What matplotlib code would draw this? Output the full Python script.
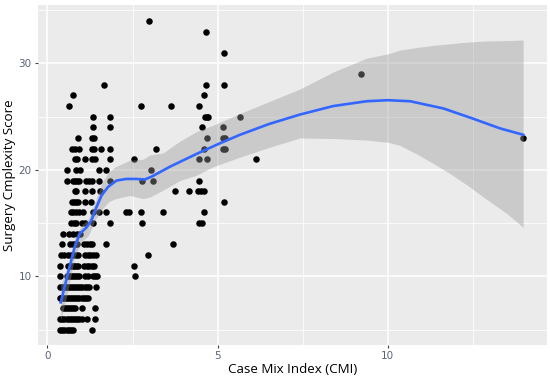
import numpy as np
import matplotlib
matplotlib.use("Agg")
import matplotlib.pyplot as plt

# surgery complexity score levels and the CMI values observed at each level
levels = [5, 6, 7, 8, 9, 10, 11, 12, 13, 14, 15, 16, 17, 18, 19, 20, 21, 22,
          23, 24, 25, 26, 27, 28, 29, 31, 33, 34]
cmi_5 = [0.38, 0.44, 0.50, 0.56, 0.62, 0.68, 0.75, 1.31]
cmi_6 = [0.38, 0.44, 0.50, 0.56, 0.62, 0.68, 0.74, 0.80, 0.86, 0.92, 1.00, 1.15, 1.41]
cmi_7 = [0.46, 0.52, 0.58, 0.64, 0.70, 0.76, 0.82, 1.00, 1.41]
cmi_8 = [0.36, 0.40, 0.46, 0.52, 0.58, 0.64, 0.70, 0.76, 0.82, 0.88, 0.94, 1.00,
         1.06, 1.12, 1.20]
cmi_9 = [0.36, 0.42, 0.48, 0.54, 0.60, 0.66, 0.72, 0.78, 0.84, 0.90, 0.96, 1.02,
         1.10, 1.16, 1.22, 1.43]
cmi_10 = [0.38, 0.58, 0.64, 0.70, 0.76, 0.82, 0.88, 0.94, 1.10, 1.20, 1.33, 1.40,
          1.46, 2.58]
cmi_11 = [0.38, 0.60, 0.66, 0.72, 0.78, 0.84, 0.90, 1.08, 1.16, 1.22, 1.30, 1.38, 2.53]
cmi_12 = [0.40, 0.50, 0.60, 0.68, 0.76, 0.84, 0.90, 1.10, 1.18, 1.26, 1.34, 1.42, 2.94]
cmi_13 = [0.42, 0.66, 0.74, 0.82, 0.88, 1.08, 1.16, 1.24, 1.30, 1.73, 3.69]
cmi_14 = [0.46, 0.64, 0.74, 0.86, 0.95]
cmi_15 = [0.70, 0.77, 0.85, 1.02, 1.10, 1.34, 1.84, 2.79, 4.45, 4.55]
cmi_16 = [0.68, 0.76, 0.84, 0.92, 1.05, 1.34, 1.52, 1.72, 2.32, 2.40, 2.74, 3.40, 4.60]
cmi_17 = [0.72, 0.78, 0.84, 0.90, 1.10, 1.29, 5.20]
cmi_18 = [0.80, 0.84, 1.10, 1.31, 1.53, 3.75, 4.16, 4.43, 4.50, 4.60]
cmi_19 = [0.58, 0.74, 0.80, 0.86, 0.94, 1.14, 1.22, 1.30, 1.52, 1.84, 2.79, 3.09, 4.45]
cmi_20 = [0.56, 0.85, 0.95, 1.52, 1.73, 3.03]
cmi_21 = [0.80, 0.88, 1.10, 1.32, 1.40, 1.84, 2.54, 4.45, 4.68, 6.12]
cmi_22 = [0.72, 0.82, 0.92, 1.30, 1.38, 1.56, 1.84, 3.18, 4.60, 5.16, 5.22]
cmi_23 = [0.90, 1.30, 1.38, 4.68, 5.16, 5.22, 13.98]
cmi_24 = [1.35, 1.84, 4.55, 5.16]
cmi_25 = [1.35, 1.84, 4.62, 4.68, 4.73, 5.66]
cmi_26 = [0.62, 2.74, 3.64, 4.45]
cmi_27 = [0.75, 4.60]
cmi_28 = [1.67, 4.67, 5.20]
cmi_29 = [9.20]
cmi_31 = [5.20]
cmi_33 = [4.67]
cmi_34 = [2.98]
cmi_rows = [cmi_5, cmi_6, cmi_7, cmi_8, cmi_9, cmi_10, cmi_11, cmi_12, cmi_13,
            cmi_14, cmi_15, cmi_16, cmi_17, cmi_18, cmi_19, cmi_20, cmi_21, cmi_22,
            cmi_23, cmi_24, cmi_25, cmi_26, cmi_27, cmi_28, cmi_29, cmi_31, cmi_33,
            cmi_34]

# loess smooth and its confidence band
smooth_x = [0.39, 0.51, 0.65, 0.80, 0.95, 1.15, 1.29, 1.44, 1.59, 1.78, 2.03, 2.32,
            2.60, 2.86, 3.05, 3.60, 4.38, 5.07, 5.66, 6.50, 7.42, 8.40, 9.38, 10.0,
            10.66, 11.64, 12.52, 13.30, 13.98]
smooth_y = [7.55, 9.1, 10.9, 12.75, 14.0, 14.6, 15.25, 16.5, 17.6, 18.4, 19.0, 19.15,
            19.15, 19.1, 19.35, 20.3, 21.5, 22.5, 23.3, 24.3, 25.2, 26.0, 26.45, 26.55,
            26.45, 25.77, 24.8, 23.9, 23.3]
band_x = [0.39, 0.60, 0.80, 1.00, 1.20, 1.40, 1.60, 1.80, 2.00, 2.42, 2.81, 3.01,
          3.40, 3.89, 4.38, 4.87, 5.66, 6.50, 7.42, 8.40, 9.38, 10.0, 10.36, 10.85,
          11.34, 11.83, 12.32, 12.81, 13.50, 13.98]
band_lo = [5.9, 8.6, 11.8, 13.3, 13.8, 15.3, 16.3, 17.0, 17.3, 17.6, 17.3, 17.45,
           18.1, 19.0, 19.5, 20.3, 21.2, 22.1, 23.0, 22.95, 22.8, 22.6, 22.3, 21.5,
           20.6, 19.65, 18.6, 17.45, 15.9, 14.6]
band_hi = [9.2, 11.0, 13.6, 14.8, 15.4, 17.0, 18.8, 19.8, 20.3, 20.9, 21.0, 21.4,
           21.6, 22.7, 23.6, 24.2, 25.3, 26.4, 27.6, 29.2, 30.5, 30.9, 31.25, 31.5,
           31.7, 31.85, 32.0, 32.1, 32.15, 32.2]

xs = np.concatenate([np.array(r) for r in cmi_rows])
ys = np.concatenate([np.full(len(r), lv) for r, lv in zip(cmi_rows, levels)])

fig = plt.figure(figsize=(5.5, 3.77), dpi=100)
ax = fig.add_axes([0.069, 0.085, 0.9255, 0.9005])
ax.set_facecolor('#EBEBEB')

ax.scatter(xs, ys, s=22, color='black', linewidths=0, zorder=3)
ax.fill_between(band_x, band_lo, band_hi, color='#999999', alpha=0.4,
                linewidth=0, zorder=4)
ax.plot(smooth_x, smooth_y, color='#3366FF', linewidth=1.9, zorder=5)

ax.set_xlim(-0.28, 14.68)
ax.set_ylim(3.55, 35.45)
ax.set_xticks([0, 5, 10])
ax.set_yticks([10, 20, 30])
ax.set_xticks([2.5, 7.5, 12.5], minor=True)
ax.set_yticks([5, 15, 25, 35], minor=True)
ax.grid(True, which='major', color='white', linewidth=1.1, zorder=0)
ax.grid(True, which='minor', color='white', linewidth=0.55, zorder=0)
ax.set_axisbelow(True)
for s in ax.spines.values():
    s.set_visible(False)
ax.tick_params(which='major', length=2.5, width=0.8, color='#444444',
               labelsize=7.5, labelcolor='#5A6475', pad=2)
ax.tick_params(which='minor', length=0)

ax.set_xlabel('Case Mix Index (CMI)', fontsize=9.6, family='Open Sans', labelpad=1)
ax.set_ylabel('Surgery Cmplexity Score', fontsize=9.6, family='Open Sans', labelpad=2)

fig.savefig('out.png', dpi=100)
